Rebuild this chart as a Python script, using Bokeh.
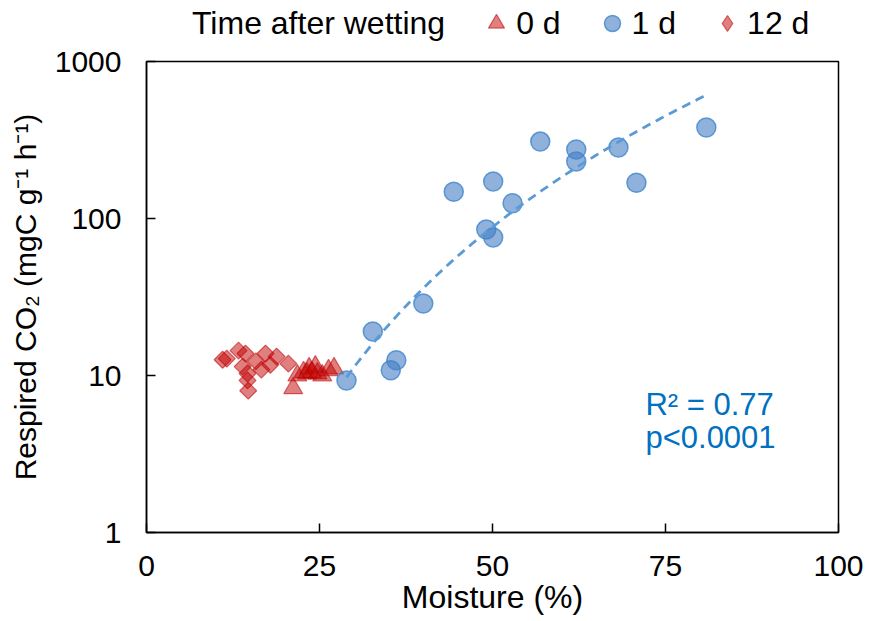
import numpy as np
from bokeh.plotting import figure
from bokeh.layouts import column
from bokeh.models import (Range1d, FixedTicker, PrintfTickFormatter, Legend,
                          LegendItem, Label)
from bokeh.embed import file_html
from bokeh.resources import INLINE

# ---- data ----
# 0 d (triangles)
moist_0d = [21.2, 21.8, 22.7, 23.2, 23.5, 23.9, 24.4, 24.7, 25.4, 26.3, 27.1]
co2_0d = [8.3, 10.0, 10.5, 10.3, 11.1, 10.5, 11.4, 10.3, 10.0, 10.8, 11.1]
# 1 d (circles)
moist_1d = [28.9, 32.7, 35.3, 36.1, 40.0, 44.4, 49.1, 50.1, 50.1, 52.9,
            56.9, 62.1, 62.1, 68.2, 70.8, 80.9]
co2_1d = [9.3, 19.1, 10.8, 12.5, 28.7, 148, 85, 75.7, 172, 125,
          309, 275, 231, 283, 169, 380]
# 12 d (diamonds)
moist_12d = [11.0, 11.6, 13.3, 14.3, 13.9, 15.8, 14.6, 14.6, 14.7, 17.2,
             16.6, 17.9, 18.8, 20.5]
co2_12d = [12.6, 12.8, 14.4, 13.8, 11.4, 12.3, 10.3, 9.3, 8.0, 13.8,
           10.9, 11.7, 13.2, 11.9]

x_ticks = [0, 25, 50, 75, 100]
y_ticks = [1, 10, 100, 1000]
legend_title = "Time after wetting"
series_labels = ["0 d", "1 d", "12 d"]
x_title = "Moisture (%)"
y_title = "Respired CO\u2082 (mgC g\u207b\u00b9 h\u207b\u00b9)"
r2_text = "R\u00b2 = 0.77"
p_text = "p<0.0001"

FONT = "Liberation Sans"
RED = "#C00000"
BLUE_FILL = "#447DC3"
BLUE_LINE = "#3F86CC"

red_style = dict(fill_color=RED, fill_alpha=0.5,
                 line_color=RED, line_alpha=0.55, line_width=1.2)
circ_style = dict(marker="circle", fill_color=BLUE_FILL, fill_alpha=0.6,
                  line_color=BLUE_LINE, line_alpha=0.8, line_width=1.5)

HEADER_H = 43

# ---------------- header with the legend ----------------
hdr = figure(width=874, height=HEADER_H, x_range=Range1d(0, 1),
             y_range=Range1d(0, 1), output_backend="svg",
             toolbar_location=None, x_axis_location=None, y_axis_location=None,
             min_border=0)
hdr.outline_line_color = None
hdr.xgrid.visible = False
hdr.ygrid.visible = False
hdr.background_fill_color = "white"
hdr.border_fill_color = "white"

# legend-only renderers: one point each, placed outside the visible range
off = [-10.0]
h_title = hdr.scatter(off, off, marker="circle", size=1, fill_alpha=0, line_alpha=0)
h_tri = hdr.scatter(off, off, marker="triangle", size=18, **red_style)
h_circ = hdr.scatter(off, off, size=18, **circ_style)
h_dia = hdr.scatter(off, off, marker="diamond", size=18, **red_style)

legend = Legend(items=[LegendItem(label=legend_title, renderers=[h_title]),
                       LegendItem(label=series_labels[0], renderers=[h_tri]),
                       LegendItem(label=series_labels[1], renderers=[h_circ]),
                       LegendItem(label=series_labels[2], renderers=[h_dia])],
                orientation="horizontal", location=(6, 0),
                label_text_font=FONT, label_text_font_size="32px",
                label_text_color="black",
                label_standoff=0, glyph_width=40, glyph_height=40,
                spacing=31, padding=0, margin=0,
                border_line_alpha=0, background_fill_alpha=0)
hdr.add_layout(legend, "center")

# ---------------- main chart ----------------
p = figure(width=874, height=621 - HEADER_H, x_range=Range1d(0, 100),
           y_range=Range1d(1, 1000), y_axis_type="log", output_backend="svg",
           toolbar_location=None, min_border_left=146, min_border_right=36,
           min_border_top=61 - HEADER_H, min_border_bottom=89)
p.background_fill_color = "white"
p.border_fill_color = "white"
p.outline_line_color = "black"
p.outline_line_width = 1.5
p.xgrid.visible = False
p.ygrid.visible = False

for ax in (p.xaxis[0], p.yaxis[0]):
    ax.axis_line_color = "black"
    ax.axis_line_width = 1.5
    ax.major_tick_in = 9
    ax.major_tick_out = 0
    ax.major_tick_line_width = 1.5
    ax.minor_tick_line_color = None
    ax.major_label_text_font = FONT
    ax.major_label_text_font_size = "30px"
    ax.major_label_text_color = "black"
    ax.axis_label_text_font = FONT
    ax.axis_label_text_font_style = "normal"
    ax.axis_label_text_color = "black"

p.xaxis.ticker = FixedTicker(ticks=x_ticks)
p.yaxis.ticker = FixedTicker(ticks=y_ticks)
p.yaxis.formatter = PrintfTickFormatter(format="%d")
p.xaxis.major_label_standoff = 23
p.yaxis.major_label_standoff = 25
p.xaxis.axis_label = x_title
p.xaxis.axis_label_text_font_size = "32px"
p.xaxis.axis_label_standoff = 0
p.yaxis.axis_label = y_title
p.yaxis.axis_label_text_font_size = "30px"
p.yaxis.axis_label_standoff = 10

# markers
r0 = p.scatter(moist_0d, co2_0d, marker="triangle", size=19, **red_style)
r1 = p.scatter(moist_1d, co2_1d, size=19, **circ_style)
r12 = p.scatter(moist_12d, co2_12d, marker="square", size=12, angle=np.pi / 4,
                **red_style)

# power-law trendline fitted to the 1 d data
lx = np.log10(moist_1d)
ly = np.log10(co2_1d)
b, a = np.polyfit(lx, ly, 1)
xs = np.linspace(min(moist_1d), max(moist_1d), 120)
ys = 10 ** (a + b * np.log10(xs))
p.line(xs, ys, line_color="#5B9BD5", line_width=2.8, line_dash="9 6")

# statistics text
p.add_layout(Label(x=72.1, y=6.5, text=r2_text, text_font=FONT,
                   text_font_size="31px", text_baseline="middle",
                   text_align="left", text_color="#0070C0"))
p.add_layout(Label(x=72.1, y=4.0, text=p_text, text_font=FONT,
                   text_font_size="31px", text_baseline="middle",
                   text_align="left", text_color="#0070C0"))

layout = column(hdr, p, spacing=0)
open("out.html", "w").write(file_html(layout, INLINE))
